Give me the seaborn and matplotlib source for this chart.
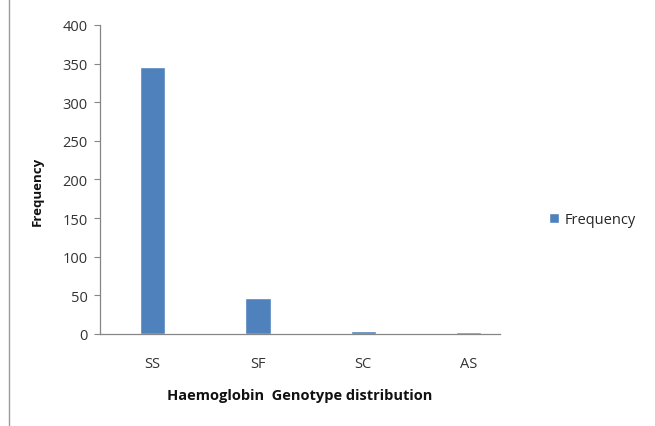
import matplotlib
matplotlib.use("Agg")
import matplotlib.pyplot as plt
from matplotlib.patches import Patch
from matplotlib.lines import Line2D
import seaborn as sns
import pandas as pd

genotypes = ["SS", "SF", "SC", "AS"]
frequency = [345, 47, 4, 2]
y_ticks = [0, 50, 100, 150, 200, 250, 300, 350, 400]

bar_color = "#4F81BD"

sns.set_theme(style="white")
plt.rcParams["font.family"] = ["Open Sans", "DejaVu Sans"]

df = pd.DataFrame({"Genotype": genotypes, "Frequency": frequency})

fig = plt.figure(figsize=(6.55, 4.27), dpi=100)
ax = fig.add_axes([0.1527, 0.2155, 0.6106, 0.7237])

sns.barplot(data=df, x="Genotype", y="Frequency", color=bar_color,
            width=0.24, saturation=1, ax=ax)

ax.set_ylim(0, 400)
ax.set_yticks(y_ticks)
ax.set_xlim(-0.5, 3.3)
ax.tick_params(axis="y", which="both", left=True, length=4, width=0.8,
               color="#868686", labelsize=10.5, labelcolor="#333333", pad=5)
ax.tick_params(axis="x", bottom=False, labelsize=10.5, labelcolor="#333333", pad=10)

for side in ["top", "right"]:
    ax.spines[side].set_visible(False)
for side in ["left", "bottom"]:
    ax.spines[side].set_color("#868686")
    ax.spines[side].set_linewidth(0.9)

ax.set_xlabel("Haemoglobin  Genotype distribution", fontsize=10.5,
              fontweight="bold", color="#111111")
ax.xaxis.set_label_coords(0.5, -0.175)
ax.set_ylabel("Frequency", fontsize=9.5, fontweight="bold", color="#111111")
ax.yaxis.set_label_coords(-0.14, 0.463)

ax.legend(handles=[Patch(facecolor=bar_color, label="Frequency")],
          loc="center left", bbox_to_anchor=(1.09, 0.37), frameon=False,
          fontsize=10.5, handlelength=0.7, handleheight=0.7, handletextpad=0.4)

# thin vertical border line at the left edge of the figure
fig.add_artist(Line2D([0.0137, 0.0137], [0.0, 1.0], transform=fig.transFigure,
                      color="#9a9a9a", linewidth=1.0))

fig.savefig("out.png", dpi=100, facecolor="white")
